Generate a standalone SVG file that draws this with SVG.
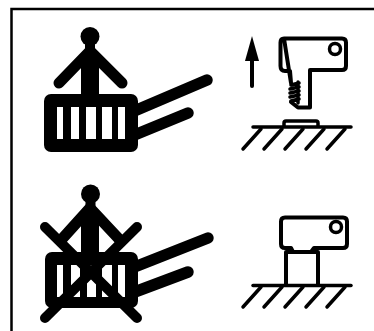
<svg xmlns="http://www.w3.org/2000/svg" width="374" height="331" viewBox="0 0 374 331">
<style>
.s{fill:none;stroke:#000;stroke-linecap:round;stroke-linejoin:round}
.f{fill:#000}
.w{fill:#fff}
</style>
<rect width="374" height="331" fill="#fff"/>
<path d="M11.500 331V9H374" fill="none" stroke="#000" stroke-width="2.500"/>
<g id="person-top">
<circle class="f" cx="90" cy="36.500" r="9.500"/>
<rect class="f" x="85" y="42" width="10" height="20"/>
<rect class="f" x="81" y="62" width="18" height="38"/>
<path class="s" stroke-width="11" d="M90 51L59 83M90 51L122 83"/>
</g>
<g id="platform-top">
<path class="s" stroke-width="11.500" d="M132 112L207 80M132 136L188 113"/>
<rect class="f" x="44" y="94" width="94" height="58" rx="7"/>
<path class="w" d="M57 107h6v32h-6zM71 107h8v32h-8zM86 107h10v32h-10zM102 107h10v32h-10zM118 107h7v32h-7z"/>
</g>
<g id="arrow-top">
<path class="s" stroke-width="4" d="M252 50V86"/>
<path class="f" d="M252 36L245 61H259Z"/>
</g>
<g id="tool-top">
<path class="s" stroke-width="4" d="M284 38.500H342Q346 38.500 346 42.500V66Q346 70 342 70H310V107.500H298L291 102M291 83L290 71H285Q280.500 71 280.500 66V42.500Q280.500 38.500 284 38.500Z"/>
<path class="s" stroke-width="3.500" d="M291 85L299 83M290 89L299 87M290 93L299 91M290 97L299 95M291 101L299 99M298 82V103"/>
<circle cx="335" cy="49" r="5.500" fill="#fff" stroke="#000" stroke-width="3.500"/>
</g>
<g id="ground-top">
<path class="s" stroke-width="3.500" d="M253 127H351M284 127V123Q284 121 286 121H316Q318 121 318 123V127"/>
<path class="s" stroke-width="3.500" d="M261 129L243 149M282 129L264 149M303 129L285 149M324 129L306 149M345 129L327 149"/>
</g>
<g id="person-bottom">
<circle class="f" cx="90.500" cy="194" r="9.500"/>
<rect class="f" x="85.500" y="200" width="10" height="20"/>
<rect class="f" x="81" y="220" width="18" height="40"/>
<path class="s" stroke-width="11" d="M90 208L62 239M90 208L119 239"/>
</g>
<g id="platform-bottom">
<path class="s" stroke-width="11.500" d="M132 268L208 238M132 293L188 272"/>
<rect class="f" x="45" y="252" width="93" height="56" rx="7"/>
<path class="w" d="M57 265h6v32h-6zM71 265h9v32h-9zM87 265h9v32h-9zM102 265h10v32h-10zM118 265h7v32h-7z"/>
<path class="s" stroke-width="10" d="M45 227L137 318M137 227L45 318"/>
</g>
<g id="tool-bottom">
<path class="s" stroke-width="4" d="M285 217.500H343Q347 217.500 347 221.500V244Q347 248 343 248H314L311 252H293L291 248H285Q281 248 281 244V221.500Q281 217.500 285 217.500Z"/>
<path class="s" stroke-width="4" d="M286 285V252H318V285"/>
<circle cx="336" cy="227" r="5.500" fill="#fff" stroke="#000" stroke-width="3.500"/>
</g>
<g id="ground-bottom">
<path class="s" stroke-width="3.500" d="M253 285.500H351"/>
<path class="s" stroke-width="3.500" d="M261 287L243 307M282 287L264 307M303 287L285 307M324 287L306 307M345 287L327 307"/>
</g>
</svg>
